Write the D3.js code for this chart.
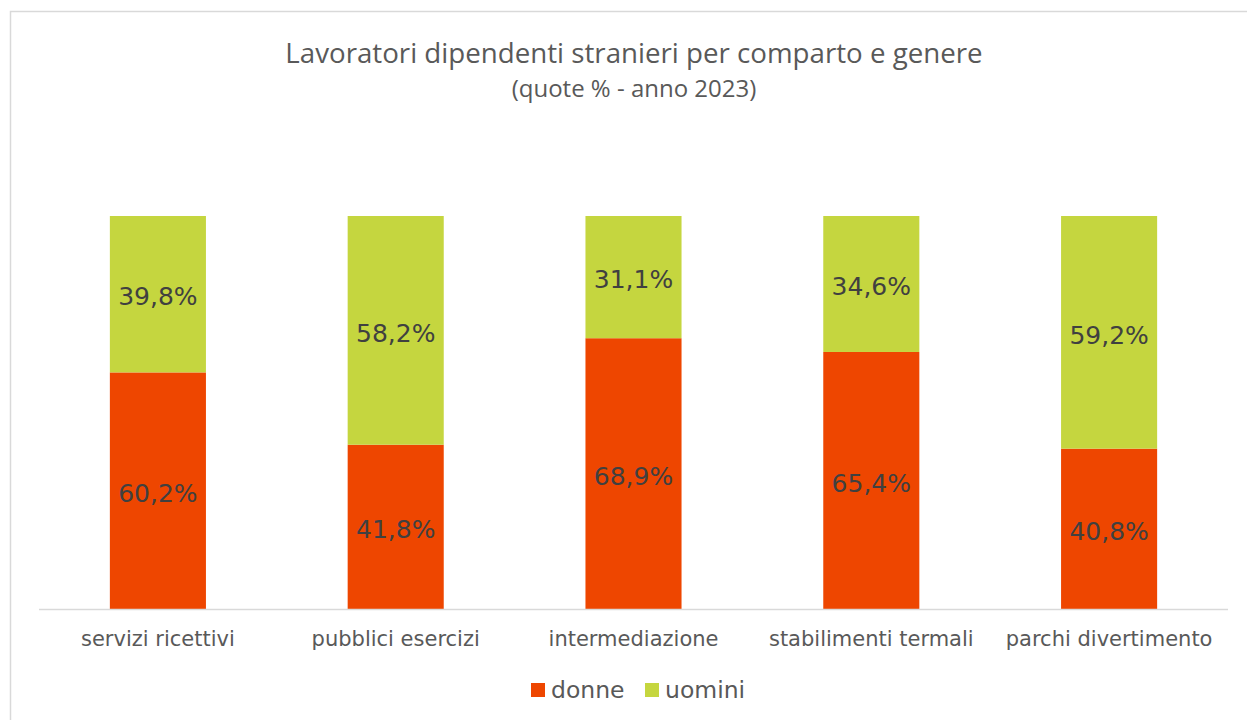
<!DOCTYPE html>
<html>
<head>
<meta charset="utf-8">
<script src="https://cdn.jsdelivr.net/npm/d3@7"></script>
<style>
  body { margin: 0; background: #fff; }
  svg { display: block; }
</style>
</head>
<body>
<div id="chart"></div>
<script>
// data
const categories = ['servizi ricettivi', 'pubblici esercizi', 'intermediazione', 'stabilimenti termali', 'parchi divertimento'];
const donne = [60.2, 41.8, 68.9, 65.4, 40.8];
const uomini = [39.8, 58.2, 31.1, 34.6, 59.2];
const seriesNames = ['donne', 'uomini'];
const seriesColors = ['#ee4600', '#c5d63f'];

// -----------------------------------------------
const W = 1247, H = 720;
const margin = { top: 216, right: 19, bottom: 111, left: 39 };
const labelFont = '"DejaVu Sans", Verdana, sans-serif';
const titleFont = '"Open Sans", sans-serif';

const rows = categories.map((c, i) => ({ cat: c, donne: donne[i], uomini: uomini[i] }));
const stacked = d3.stack().keys(seriesNames)(rows);

const svg = d3.select('#chart').append('svg')
  .attr('width', W).attr('height', H);

// chart frame
svg.append('rect')
  .attr('x', 10.5).attr('y', 11.5)
  .attr('width', W + 10).attr('height', H + 10)
  .attr('fill', 'none').attr('stroke', '#d9d9d9').attr('stroke-width', 1.5);

const x = d3.scaleBand()
  .domain(categories)
  .range([margin.left, W - margin.right])
  .paddingInner(0.596)
  .paddingOuter(0.298);

const y = d3.scaleLinear()
  .domain([0, 100])
  .range([H - margin.bottom, margin.top]);

// title
svg.append('text')
  .attr('x', 634).attr('y', 63)
  .attr('text-anchor', 'middle')
  .style('font-family', titleFont)
  .style('font-size', '27.7px')
  .attr('fill', '#595959')
  .text('Lavoratori dipendenti stranieri per comparto e genere');
svg.append('text')
  .attr('x', 634).attr('y', 97)
  .attr('text-anchor', 'middle')
  .style('font-family', titleFont)
  .style('font-size', '24px')
  .attr('fill', '#595959')
  .text('(quote % - anno 2023)');

// bars
const layers = svg.append('g')
  .selectAll('g')
  .data(stacked)
  .join('g')
  .attr('fill', (d, i) => seriesColors[i]);

layers.selectAll('rect')
  .data(d => d)
  .join('rect')
  .attr('x', d => x(d.data.cat))
  .attr('y', d => y(d[1]))
  .attr('height', d => y(d[0]) - y(d[1]))
  .attr('width', x.bandwidth());

// data labels
layers.selectAll('text')
  .data(d => d)
  .join('text')
  .attr('x', d => x(d.data.cat) + x.bandwidth() / 2)
  .attr('y', d => (y(d[0]) + y(d[1])) / 2)
  .attr('dy', '0.45em')
  .attr('text-anchor', 'middle')
  .style('font-family', labelFont)
  .style('font-size', '25px')
  .attr('fill', '#404040')
  .text(d => d3.format('.1f')(d[1] - d[0]).replace('.', ',') + '%');

// x axis
const gx = svg.append('g')
  .attr('transform', `translate(0,${H - margin.bottom})`)
  .call(d3.axisBottom(x).tickSize(0));
gx.select('.domain').attr('stroke', '#d9d9d9').attr('stroke-width', 1.5)
  .attr('d', `M${margin.left},0.5H${W - margin.right}`);
gx.selectAll('text')
  .attr('y', 37).attr('dy', 0)
  .style('font-family', labelFont)
  .style('font-size', '21px')
  .attr('fill', '#595959');

// legend
const legend = svg.append('g').attr('transform', 'translate(531,683)');
const legX = [0, 114];
seriesNames.forEach((s, i) => {
  legend.append('rect')
    .attr('x', legX[i]).attr('y', 0)
    .attr('width', 14).attr('height', 14)
    .attr('fill', seriesColors[i]);
  legend.append('text')
    .attr('x', legX[i] + 20).attr('y', 15)
    .style('font-family', labelFont)
    .style('font-size', '23.5px')
    .attr('fill', '#595959')
    .text(s);
});
</script>
</body>
</html>
